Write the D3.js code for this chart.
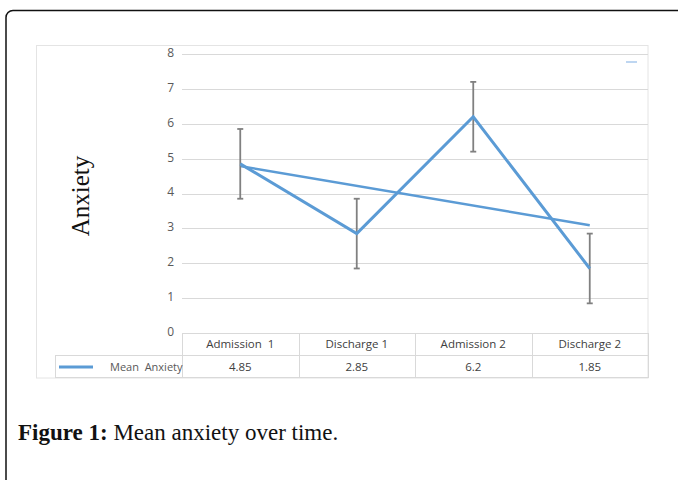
<!DOCTYPE html>
<html><head><meta charset="utf-8">
<script src="https://cdn.jsdelivr.net/npm/d3@7"></script>
<style>html,body{margin:0;padding:0;background:#fff;}svg{display:block;}</style>
</head><body>
<svg id="c" width="678" height="480"></svg>
<script>
const categories = ["Admission  1", "Discharge 1", "Admission 2", "Discharge 2"];
const meanAnxiety = [4.85, 2.85, 6.2, 1.85];
const valueLabels = ["4.85", "2.85", "6.2", "1.85"];
const errorAmount = [1, 1, 1, 1];
const yTicks = [0, 1, 2, 3, 4, 5, 6, 7, 8];
const seriesName = "Mean  Anxiety";
const yTitle = "Anxiety";
const captionBold = "Figure 1:";
const captionText = " Mean anxiety over time.";

const svg = d3.select("#c");
const blue = "#5b9bd5", grid = "#d9d9d9", txt = "#595959";

// outer figure frame
svg.append("rect").attr("x", 6).attr("y", 10.5).attr("width", 680).attr("height", 480)
  .attr("rx", 7).attr("fill", "none").attr("stroke", "#111").attr("stroke-width", 1.5);

// chart box
svg.append("rect").attr("x", 36.5).attr("y", 45.5).attr("width", 611.5).attr("height", 332.5)
  .attr("fill", "#fff").attr("stroke", "#e4e4e4").attr("stroke-width", 1);

const x = d3.scaleBand().domain(categories).range([182, 648]);
const y = d3.scaleLinear().domain([0, 8]).range([333, 54]);

// gridlines
svg.append("g").selectAll("line").data(yTicks).join("line")
  .attr("x1", 182).attr("x2", 648)
  .attr("y1", d => Math.round(y(d)) + 0.5).attr("y2", d => Math.round(y(d)) + 0.5)
  .attr("stroke", grid).attr("stroke-width", 1);

// y tick labels via axis
const yAxis = svg.append("g").attr("transform", "translate(182,0)")
  .call(d3.axisLeft(y).tickValues(yTicks).tickSize(0).tickPadding(8).tickFormat(d3.format("d")));
yAxis.select(".domain").remove();
yAxis.selectAll("text").attr("fill", txt).style("font-family", "'Open Sans', sans-serif")
  .style("font-size", "12px").attr("dy", "0.2em");

// y title
svg.append("text").attr("transform", "translate(89,196) rotate(-90)")
  .attr("text-anchor", "middle").attr("fill", "#111")
  .style("font-family", "'Liberation Serif', 'Times New Roman', serif").style("font-size", "25px")
  .text(yTitle);

// data table
const tbl = svg.append("g").attr("stroke", grid).attr("stroke-width", 1);
tbl.append("line").attr("x1", 55).attr("x2", 648).attr("y1", 355.5).attr("y2", 355.5);
tbl.append("line").attr("x1", 55).attr("x2", 648).attr("y1", 377.5).attr("y2", 377.5);
tbl.append("line").attr("x1", 55.5).attr("x2", 55.5).attr("y1", 355).attr("y2", 378);
const bounds = categories.map(c => x(c)).concat([x.range()[1]]);
tbl.selectAll("line.v").data(bounds).join("line").attr("class", "v")
  .attr("x1", d => Math.round(d) + 0.5).attr("x2", d => Math.round(d) + 0.5)
  .attr("y1", 333).attr("y2", 378);

// category labels
svg.append("g").selectAll("text").data(categories).join("text")
  .attr("x", d => x(d) + x.bandwidth() / 2).attr("y", 348)
  .attr("text-anchor", "middle").attr("fill", "#404040")
  .style("font-family", "'Open Sans', sans-serif").style("font-size", "11.5px")
  .style("white-space", "pre").text(d => d);

// values row
svg.append("g").selectAll("text").data(valueLabels).join("text")
  .attr("x", (d, i) => x(categories[i]) + x.bandwidth() / 2).attr("y", 371)
  .attr("text-anchor", "middle").attr("fill", "#404040")
  .style("font-family", "'Open Sans', sans-serif").style("font-size", "11.5px")
  .text(d => d);

// legend key in table
svg.append("line").attr("x1", 59).attr("x2", 93).attr("y1", 367).attr("y2", 367)
  .attr("stroke", blue).attr("stroke-width", 3);
svg.append("text").attr("x", 110).attr("y", 370.5).attr("fill", txt)
  .style("font-family", "'Open Sans', sans-serif").style("font-size", "11px")
  .style("white-space", "pre").text(seriesName);

// truncated legend dash top right
svg.append("line").attr("x1", 626).attr("x2", 637).attr("y1", 62).attr("y2", 62)
  .attr("stroke", "#a9c9ec").attr("stroke-width", 1.5);

const cx = i => x(categories[i]) + x.bandwidth() / 2;

// trendline (least squares on the series)
const n = meanAnxiety.length;
const xs = meanAnxiety.map((d, i) => i + 1);
const mx = d3.mean(xs), my = d3.mean(meanAnxiety);
const slope = d3.sum(xs.map((xi, i) => (xi - mx) * (meanAnxiety[i] - my))) / d3.sum(xs.map(xi => (xi - mx) ** 2));
const icpt = my - slope * mx;
svg.append("line")
  .attr("x1", cx(0)).attr("y1", y(icpt + slope * 1))
  .attr("x2", cx(n - 1)).attr("y2", y(icpt + slope * n))
  .attr("stroke", blue).attr("stroke-width", 2.5);

// error bars
const eb = svg.append("g").attr("stroke", "#808080").attr("stroke-width", 1.8);
meanAnxiety.forEach((v, i) => {
  const c = cx(i), t = y(v + errorAmount[i]), b = y(v - errorAmount[i]);
  eb.append("line").attr("x1", c).attr("x2", c).attr("y1", t).attr("y2", b);
  eb.append("line").attr("x1", c - 3).attr("x2", c + 3).attr("y1", t).attr("y2", t);
  eb.append("line").attr("x1", c - 3).attr("x2", c + 3).attr("y1", b).attr("y2", b);
});

// series line
svg.append("path").datum(meanAnxiety)
  .attr("d", d3.line().x((d, i) => cx(i)).y(d => y(d)))
  .attr("fill", "none").attr("stroke", blue).attr("stroke-width", 3).attr("stroke-linejoin", "miter");

// caption
const cap = svg.append("text").attr("x", 18).attr("y", 440).attr("fill", "#111")
  .style("font-family", "'Liberation Serif', 'Times New Roman', serif").style("font-size", "23px");
cap.append("tspan").attr("font-weight", "bold").text(captionBold);
cap.append("tspan").text(captionText);
</script>
</body></html>
